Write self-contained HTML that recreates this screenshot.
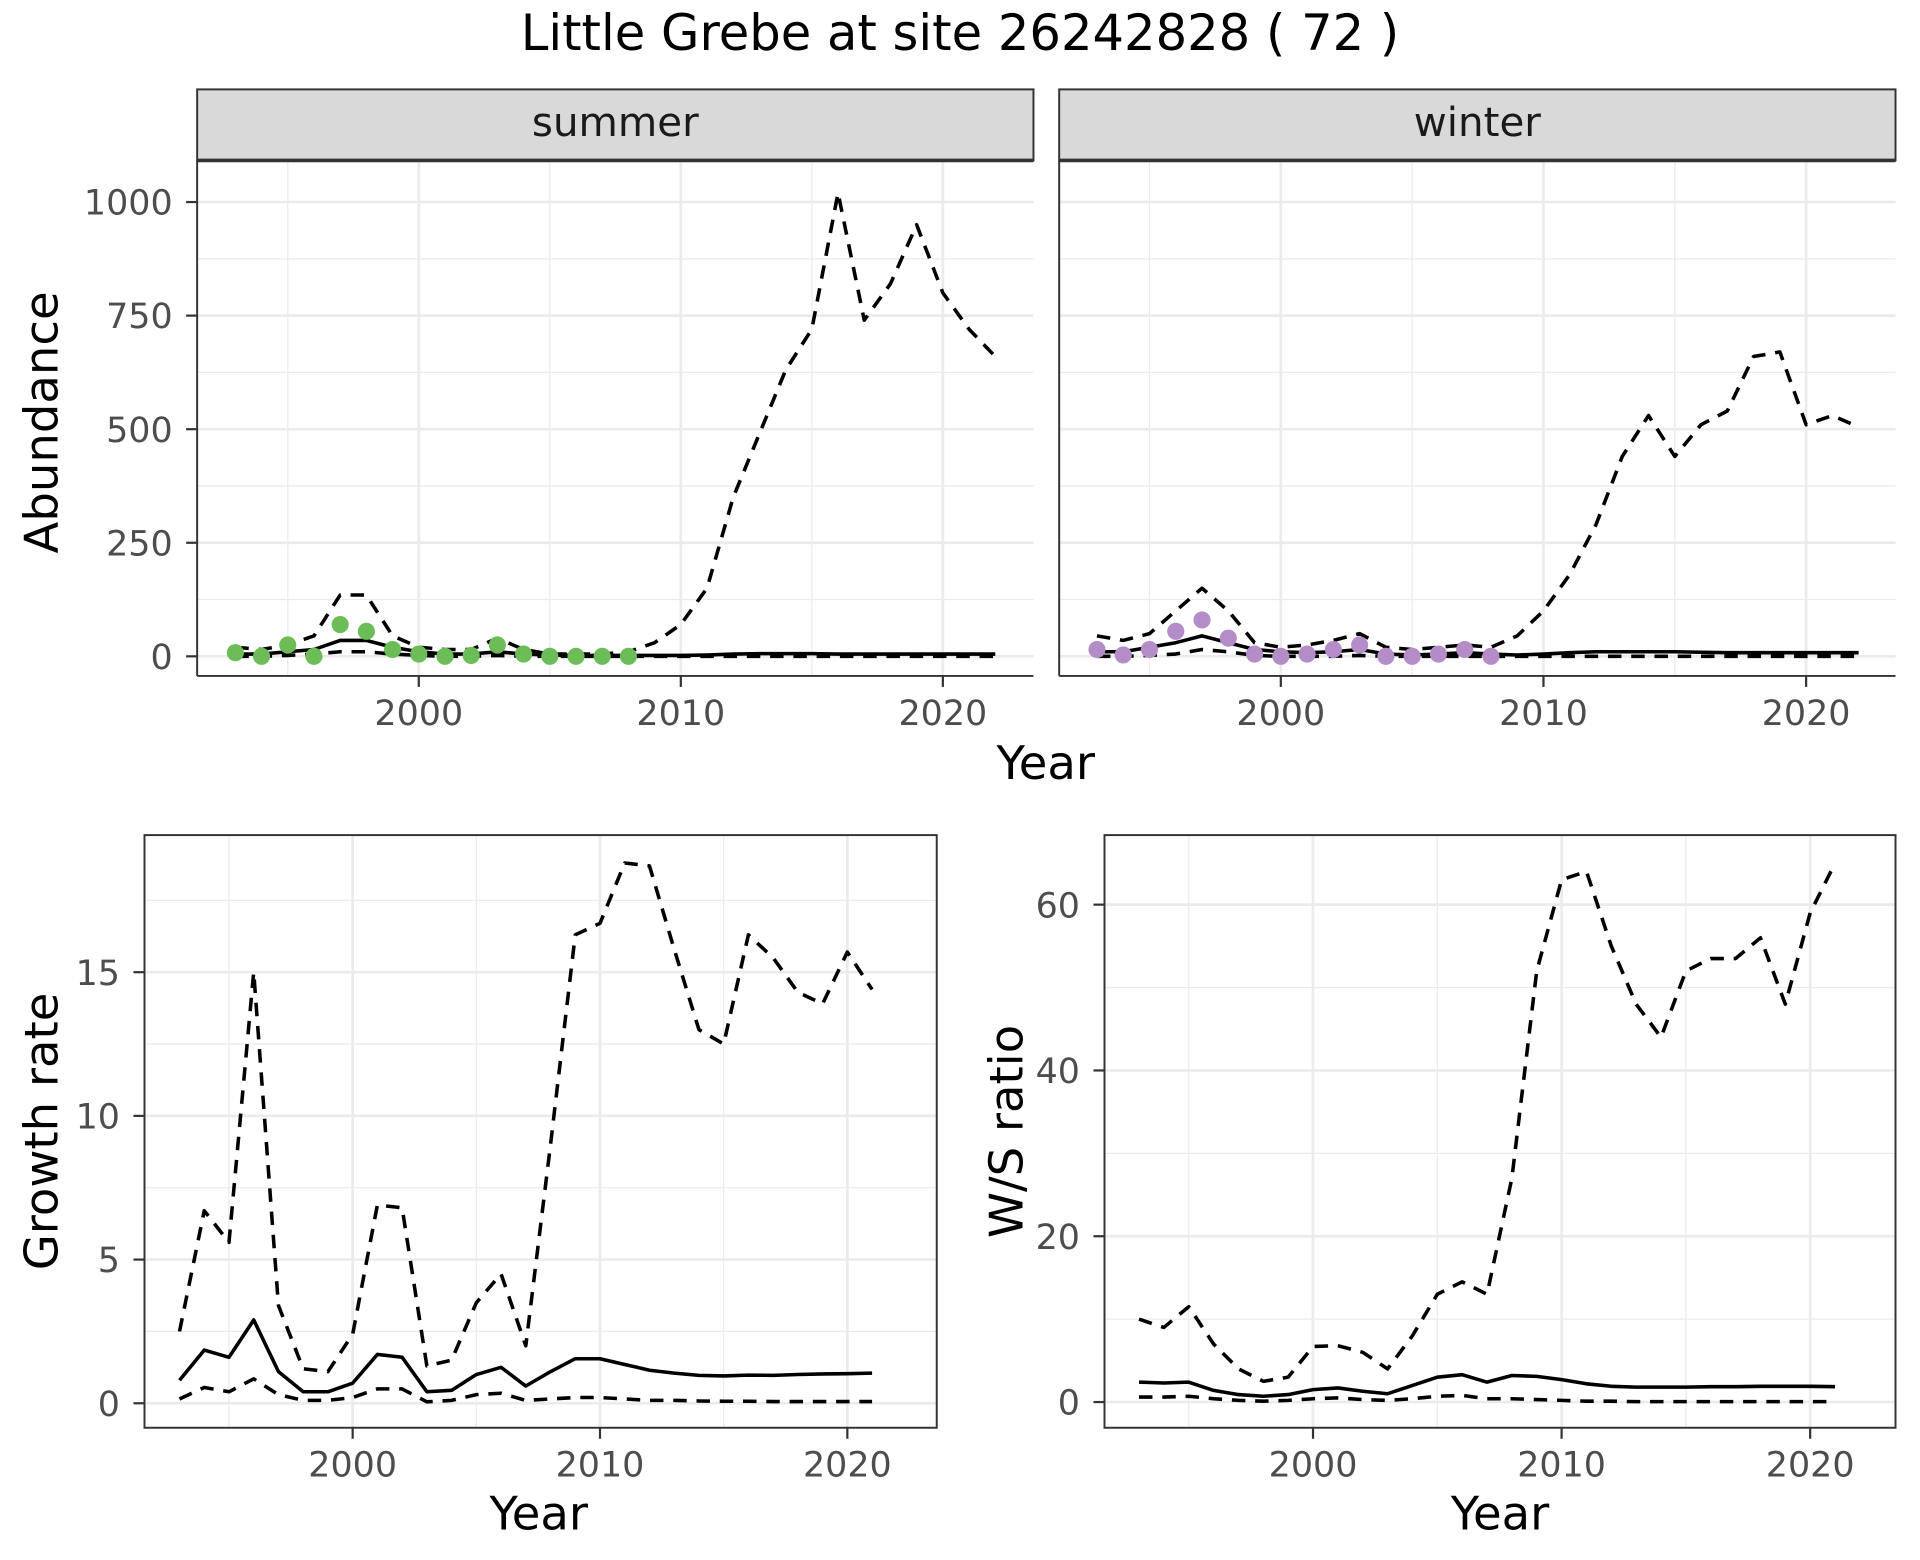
<!DOCTYPE html>
<html><head><meta charset="utf-8">
<style>
html,body{margin:0;padding:0;background:#fff;}
svg{display:block;}
text{font-family:"DejaVu Sans","Liberation Sans",sans-serif;}
</style></head>
<body>
<svg id="chart" width="1920" height="1560" viewBox="0 0 1568 1274" preserveAspectRatio="none" xmlns="http://www.w3.org/2000/svg">
<rect width="1568" height="1274" fill="#fff"/>
<text x="784" y="41" font-size="40.5" text-anchor="middle" fill="#000">Little Grebe at site 26242828 ( 72 )</text>
</svg>
<script>
const years = [1993,1994,1995,1996,1997,1998,1999,2000,2001,2002,2003,2004,2005,2006,2007,2008,2009,2010,2011,2012,2013,2014,2015,2016,2017,2018,2019,2020,2021,2022];
const obsYears = [1993,1994,1995,1996,1997,1998,1999,2000,2001,2002,2003,2004,2005,2006,2007,2008];
const summerObs = [8,0,25,0,70,55,15,5,0,2,25,5,0,0,0,0];
const summerMid = [5,5,10,15,35,35,20,10,5,5,10,5,3,2,2,2,2,2,3,5,6,6,6,5,5,5,5,5,5,5];
const summerHi = [20,15,25,45,135,135,45,20,15,15,40,15,5,5,5,10,30,70,150,350,490,630,720,1020,740,820,950,800,720,660];
const summerLo = [0,0,2,5,10,10,5,2,0,0,2,0,0,0,0,0,0,0,0,0,0,0,0,0,0,0,0,0,0,0];
const winterObs = [15,3,15,55,80,40,5,0,5,15,25,0,0,5,15,0];
const winterMid = [10,10,20,30,45,30,15,10,8,10,15,5,3,5,8,5,3,5,8,10,10,10,10,9,8,8,8,8,8,8];
const winterHi = [45,35,50,100,150,100,30,20,25,35,50,20,15,20,25,20,45,100,180,290,440,530,440,510,540,660,670,510,530,505];
const winterLo = [0,0,2,5,15,10,2,0,0,0,2,0,0,0,0,0,0,0,0,0,0,0,0,0,0,0,0,0,0,0];
const rateYears = [1993,1994,1995,1996,1997,1998,1999,2000,2001,2002,2003,2004,2005,2006,2007,2008,2009,2010,2011,2012,2013,2014,2015,2016,2017,2018,2019,2020,2021];
const growthMid = [0.8,1.85,1.6,2.9,1.1,0.4,0.4,0.7,1.7,1.6,0.4,0.45,1.0,1.25,0.6,1.1,1.55,1.55,1.35,1.15,1.05,0.97,0.95,0.98,0.97,1.0,1.02,1.03,1.05];
const growthHi = [2.5,6.7,5.6,15.0,3.4,1.2,1.1,2.4,6.9,6.8,1.3,1.5,3.5,4.5,2.0,9.0,16.3,16.7,18.8,18.7,15.8,13.0,12.5,16.3,15.5,14.3,13.9,15.7,14.4];
const growthLo = [0.15,0.55,0.4,0.85,0.3,0.1,0.1,0.2,0.5,0.5,0.05,0.1,0.3,0.35,0.1,0.15,0.2,0.2,0.15,0.1,0.1,0.08,0.07,0.07,0.06,0.06,0.06,0.06,0.06];
const ratioMid = [2.4,2.3,2.4,1.4,0.9,0.7,0.9,1.5,1.7,1.3,1.0,2.0,3.0,3.3,2.4,3.2,3.1,2.7,2.2,1.9,1.8,1.8,1.8,1.85,1.85,1.9,1.9,1.9,1.85];
const ratioHi = [10,9,11.5,7,4,2.5,3,6.7,6.8,6,4,8,13,14.5,13,27,52,63,64,55,48,44,52,53.5,53.5,56,48,59,65];
const ratioLo = [0.6,0.6,0.7,0.4,0.2,0.1,0.2,0.4,0.5,0.3,0.2,0.4,0.7,0.8,0.4,0.4,0.3,0.2,0.1,0.1,0.05,0.05,0.05,0.05,0.05,0.05,0.05,0.05,0.05];
const xTicks = [2000,2010,2020];
const xMinor = [1995,2005,2015];
const abundTicks = [0,250,500,750,1000];
const abundMinor = [125,375,625,875];
const growthTicks = [0,5,10,15];
const growthMinor = [2.5,7.5,12.5,17.5];
const ratioTicks = [0,20,40,60];
const ratioMinor = [10,30,50];

const svg = document.getElementById('chart');
const NS = 'http://www.w3.org/2000/svg';
function mk(tag, attrs, parent){
  const e = document.createElementNS(NS, tag);
  for (const k in attrs) e.setAttribute(k, attrs[k]);
  (parent||svg).appendChild(e);
  return e;
}
function panel(o){
  const g = mk('g', {});
  
  
  const xs = v => o.x0 + (v - 2000) * o.xk;
  const ys = v => o.y0 - v * o.yk;
  mk('rect', {x:o.l, y:o.t, width:o.r-o.l, height:o.b-o.t, fill:'#fff'}, g);
  o.xMinor.forEach(v => mk('line', {x1:xs(v), x2:xs(v), y1:o.t, y2:o.b, stroke:'#ebebeb', 'stroke-width':1}, g));
  o.yMinor.forEach(v => mk('line', {x1:o.l, x2:o.r, y1:ys(v), y2:ys(v), stroke:'#ebebeb', 'stroke-width':1}, g));
  o.xTicks.forEach(v => mk('line', {x1:xs(v), x2:xs(v), y1:o.t, y2:o.b, stroke:'#ebebeb', 'stroke-width':2.2}, g));
  o.yTicks.forEach(v => mk('line', {x1:o.l, x2:o.r, y1:ys(v), y2:ys(v), stroke:'#ebebeb', 'stroke-width':2.2}, g));
  function line(xv, yv, dash, nm){
    const d = xv.map((x,i) => (i?'L':'M') + xs(x).toFixed(2) + ',' + ys(yv[i]).toFixed(2)).join(' ');
    const p = mk('path', {d:d, fill:'none', stroke:'#000', 'stroke-width':2.9, 'stroke-linejoin':'round'}, g);
    if (dash) p.setAttribute('stroke-dasharray', '11,8');
    
    
  }
  line(o.xv, o.hi, true, 'upper-bound-line');
  line(o.xv, o.lo, true, 'lower-bound-line');
  line(o.xv, o.mid, false, 'estimate-line');
  if (o.obs) o.obs.forEach((v,i) => {
    const c = mk('circle', {cx:xs(obsYears[i]), cy:ys(v), r:7, fill:o.col}, g);
    
    
  });
  if (!o.noBox) mk('rect', {x:o.l, y:o.t, width:o.r-o.l, height:o.b-o.t, fill:'none', stroke:'#333', 'stroke-width':1.6}, g);
  else {
    mk('line', {x1:o.l, x2:o.l, y1:o.t, y2:o.b, stroke:'#333', 'stroke-width':1.6}, g);
    mk('line', {x1:o.l, x2:o.r, y1:o.b, y2:o.b, stroke:'#333', 'stroke-width':1.6}, g);
  }
  o.xTicks.forEach(v => {
    mk('line', {x1:xs(v), x2:xs(v), y1:o.b, y2:o.b+9, stroke:'#333', 'stroke-width':1.8}, g);
    const t = mk('text', {x:xs(v), y:o.b+40, 'font-size':28.5, fill:'#4d4d4d', 'text-anchor':'middle'}, g);
    t.textContent = v;
    
    
  });
  if (o.yLabels) o.yTicks.forEach(v => {
    mk('line', {x1:o.l-9, x2:o.l, y1:ys(v), y2:ys(v), stroke:'#333', 'stroke-width':1.8}, g);
    const t = mk('text', {x:o.l-20, y:ys(v)+10.3, 'font-size':28.5, fill:'#4d4d4d', 'text-anchor':'end'}, g);
    t.textContent = v;
    
    
  });
  if (o.strip){
    mk('rect', {x:o.l, y:73, width:o.r-o.l, height:o.t-73, fill:'#d9d9d9', stroke:'#333', 'stroke-width':1.6}, g);
    mk('line', {x1:o.l, x2:o.r, y1:o.t, y2:o.t, stroke:'#333', 'stroke-width':3}, g);
    const t = mk('text', {x:(o.l+o.r)/2, y:111, 'font-size':33, fill:'#1a1a1a', 'text-anchor':'middle'}, g);
    t.textContent = o.strip;
    
    
  }
}
panel({name:'summer-panel', l:161, r:844, t:131, b:552, x0:342, xk:21.4, y0:536, yk:0.371,
  xTicks, xMinor, yTicks:abundTicks, yMinor:abundMinor, xv:years, mid:summerMid, hi:summerHi, lo:summerLo,
  obs:summerObs, col:'#6cbd58', yLabels:true, strip:'summer', noBox:true});
panel({name:'winter-panel', l:865, r:1548, t:131, b:552, x0:1046, xk:21.45, y0:536, yk:0.371,
  xTicks, xMinor, yTicks:abundTicks, yMinor:abundMinor, xv:years, mid:winterMid, hi:winterHi, lo:winterLo,
  obs:winterObs, col:'#b48cc8', yLabels:false, strip:'winter', noBox:true});
panel({name:'growth-rate-panel', l:118, r:765, t:682, b:1166, x0:288, xk:20.2, y0:1146, yk:23.47,
  xTicks, xMinor, yTicks:growthTicks, yMinor:growthMinor, xv:rateYears, mid:growthMid, hi:growthHi, lo:growthLo, yLabels:true});
panel({name:'ws-ratio-panel', l:902, r:1548, t:682, b:1166, x0:1072.3, xk:20.3, y0:1145, yk:6.77,
  xTicks, xMinor, yTicks:ratioTicks, yMinor:ratioMinor, xv:rateYears, mid:ratioMid, hi:ratioHi, lo:ratioLo, yLabels:true});

function label(txt, x, y, rot, nm){
  const t = mk('text', {x:x, y:y, 'font-size':38, fill:'#000', 'text-anchor':'middle'});
  if (rot) t.setAttribute('transform', 'rotate(-90 '+x+' '+y+')');
  t.textContent = txt;
  
  
}
label('Year', 854, 636, false, 'top-x-axis-title');
label('Abundance', 47, 345, true, 'abundance-y-axis-title');
label('Year', 440, 1249, false, 'growth-x-axis-title');
label('Growth rate', 47, 924, true, 'growth-y-axis-title');
label('Year', 1225, 1249, false, 'ratio-x-axis-title');
label('W/S ratio', 835, 924, true, 'ratio-y-axis-title');
</script>
</body></html>
